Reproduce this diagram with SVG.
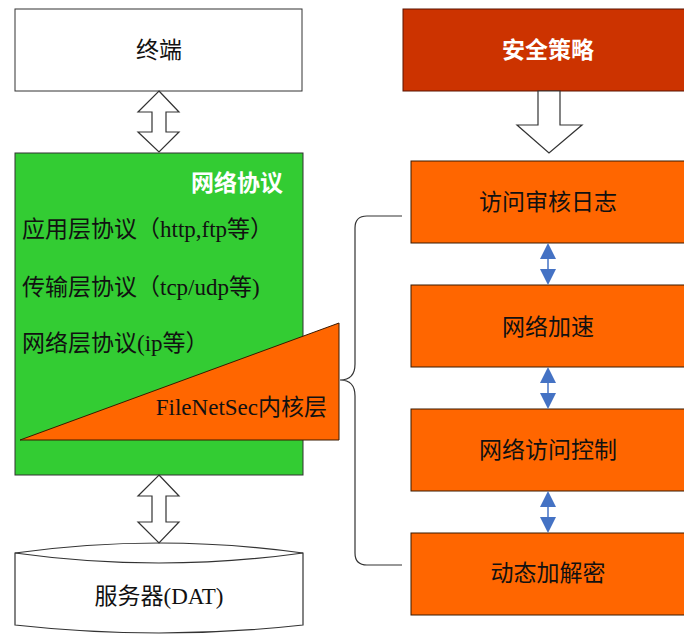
<svg xmlns="http://www.w3.org/2000/svg" width="684" height="634" viewBox="0 0 684 634">
<style>
text{font-family:"Liberation Serif","Noto Sans CJK SC",serif;font-size:23px;fill:#111}
.c{text-anchor:middle}
.w{fill:#fff;font-weight:bold}
.box{stroke:#333;stroke-width:1}
.or{fill:#FF6600;stroke:#3a1a00;stroke-width:1}
.hollow{fill:#fff;stroke:#333;stroke-width:1.2;stroke-linejoin:miter}
.conn{fill:none;stroke:#333;stroke-width:1.2}
.blue{stroke:#4472C4;stroke-width:1.5}
.bh{fill:#4472C4}
</style>
<g id="terminal">
<rect class="box" x="15" y="9" width="287" height="82" fill="#fff"/>
<text class="c" x="159" y="58">终端</text>
</g>
<g id="policy">
<rect x="403" y="9" width="290" height="82" fill="#CC3300" stroke="#5a1500"/>
<text class="c w" x="548" y="58">安全策略</text>
</g>
<g id="protocols">
<rect class="box" x="15" y="153" width="288" height="322" fill="#33CC33"/>
<text class="w" x="283" y="191" text-anchor="end">网络协议</text>
<text x="22" y="237">应用层协议（http,ftp等）</text>
<text x="22" y="295">传输层协议（tcp/udp等)</text>
<text x="22" y="351">网络层协议(ip等）</text>
</g>
<g id="kernel">
<polygon class="or" points="20,440 339,323 339,440" stroke="#111"/>
<text x="327" y="415" text-anchor="end">FileNetSec内核层</text>
</g>
<g id="server">
<path d="M15,553 Q159,533 303,553 L303,625 Q159,641 15,625 Z" fill="#fff" stroke="#333" stroke-width="1.2"/>
<path d="M15,553 Q159,573 303,553" fill="none" stroke="#333" stroke-width="1.2"/>
<text class="c" x="159" y="604">服务器(DAT)</text>
</g>
<g id="audit">
<rect class="or" x="411" y="161" width="290" height="82"/>
<text class="c" x="548" y="210">访问审核日志</text>
</g>
<g id="accel">
<rect class="or" x="411" y="285" width="290" height="82"/>
<text class="c" x="548" y="335">网络加速</text>
</g>
<g id="acl">
<rect class="or" x="411" y="409" width="290" height="82"/>
<text class="c" x="548" y="458">网络访问控制</text>
</g>
<g id="crypto">
<rect class="or" x="411" y="533" width="290" height="82"/>
<text class="c" x="548" y="581">动态加解密</text>
</g>
<g id="connectors">
<polygon class="hollow" points="159,91 179,112 166,112 166,132 179,132 159,152 138,132 152,132 152,112 138,112"/>
<polygon class="hollow" points="159,475 179,496 166,496 166,522 179,522 159,543 138,522 152,522 152,496 138,496"/>
<polygon class="hollow" points="538,91 560,91 560,125 582,125 549,153 517,125 538,125"/>
<path class="conn" d="M402,216 L367,216 Q355,216 355,228 L355,364 Q355,380 340,380 Q355,380 355,396 L355,553 Q355,565 367,565 L402,565"/>
<line class="blue" x1="548" y1="256" x2="548" y2="272"/>
<polygon class="bh" points="548,243 556,259 540,259"/>
<polygon class="bh" points="548,285 556,269 540,269"/>
<line class="blue" x1="548" y1="380" x2="548" y2="396"/>
<polygon class="bh" points="548,367 556,383 540,383"/>
<polygon class="bh" points="548,409 556,393 540,393"/>
<line class="blue" x1="548" y1="504" x2="548" y2="520"/>
<polygon class="bh" points="548,491 556,507 540,507"/>
<polygon class="bh" points="548,533 556,517 540,517"/>
</g>
</svg>
